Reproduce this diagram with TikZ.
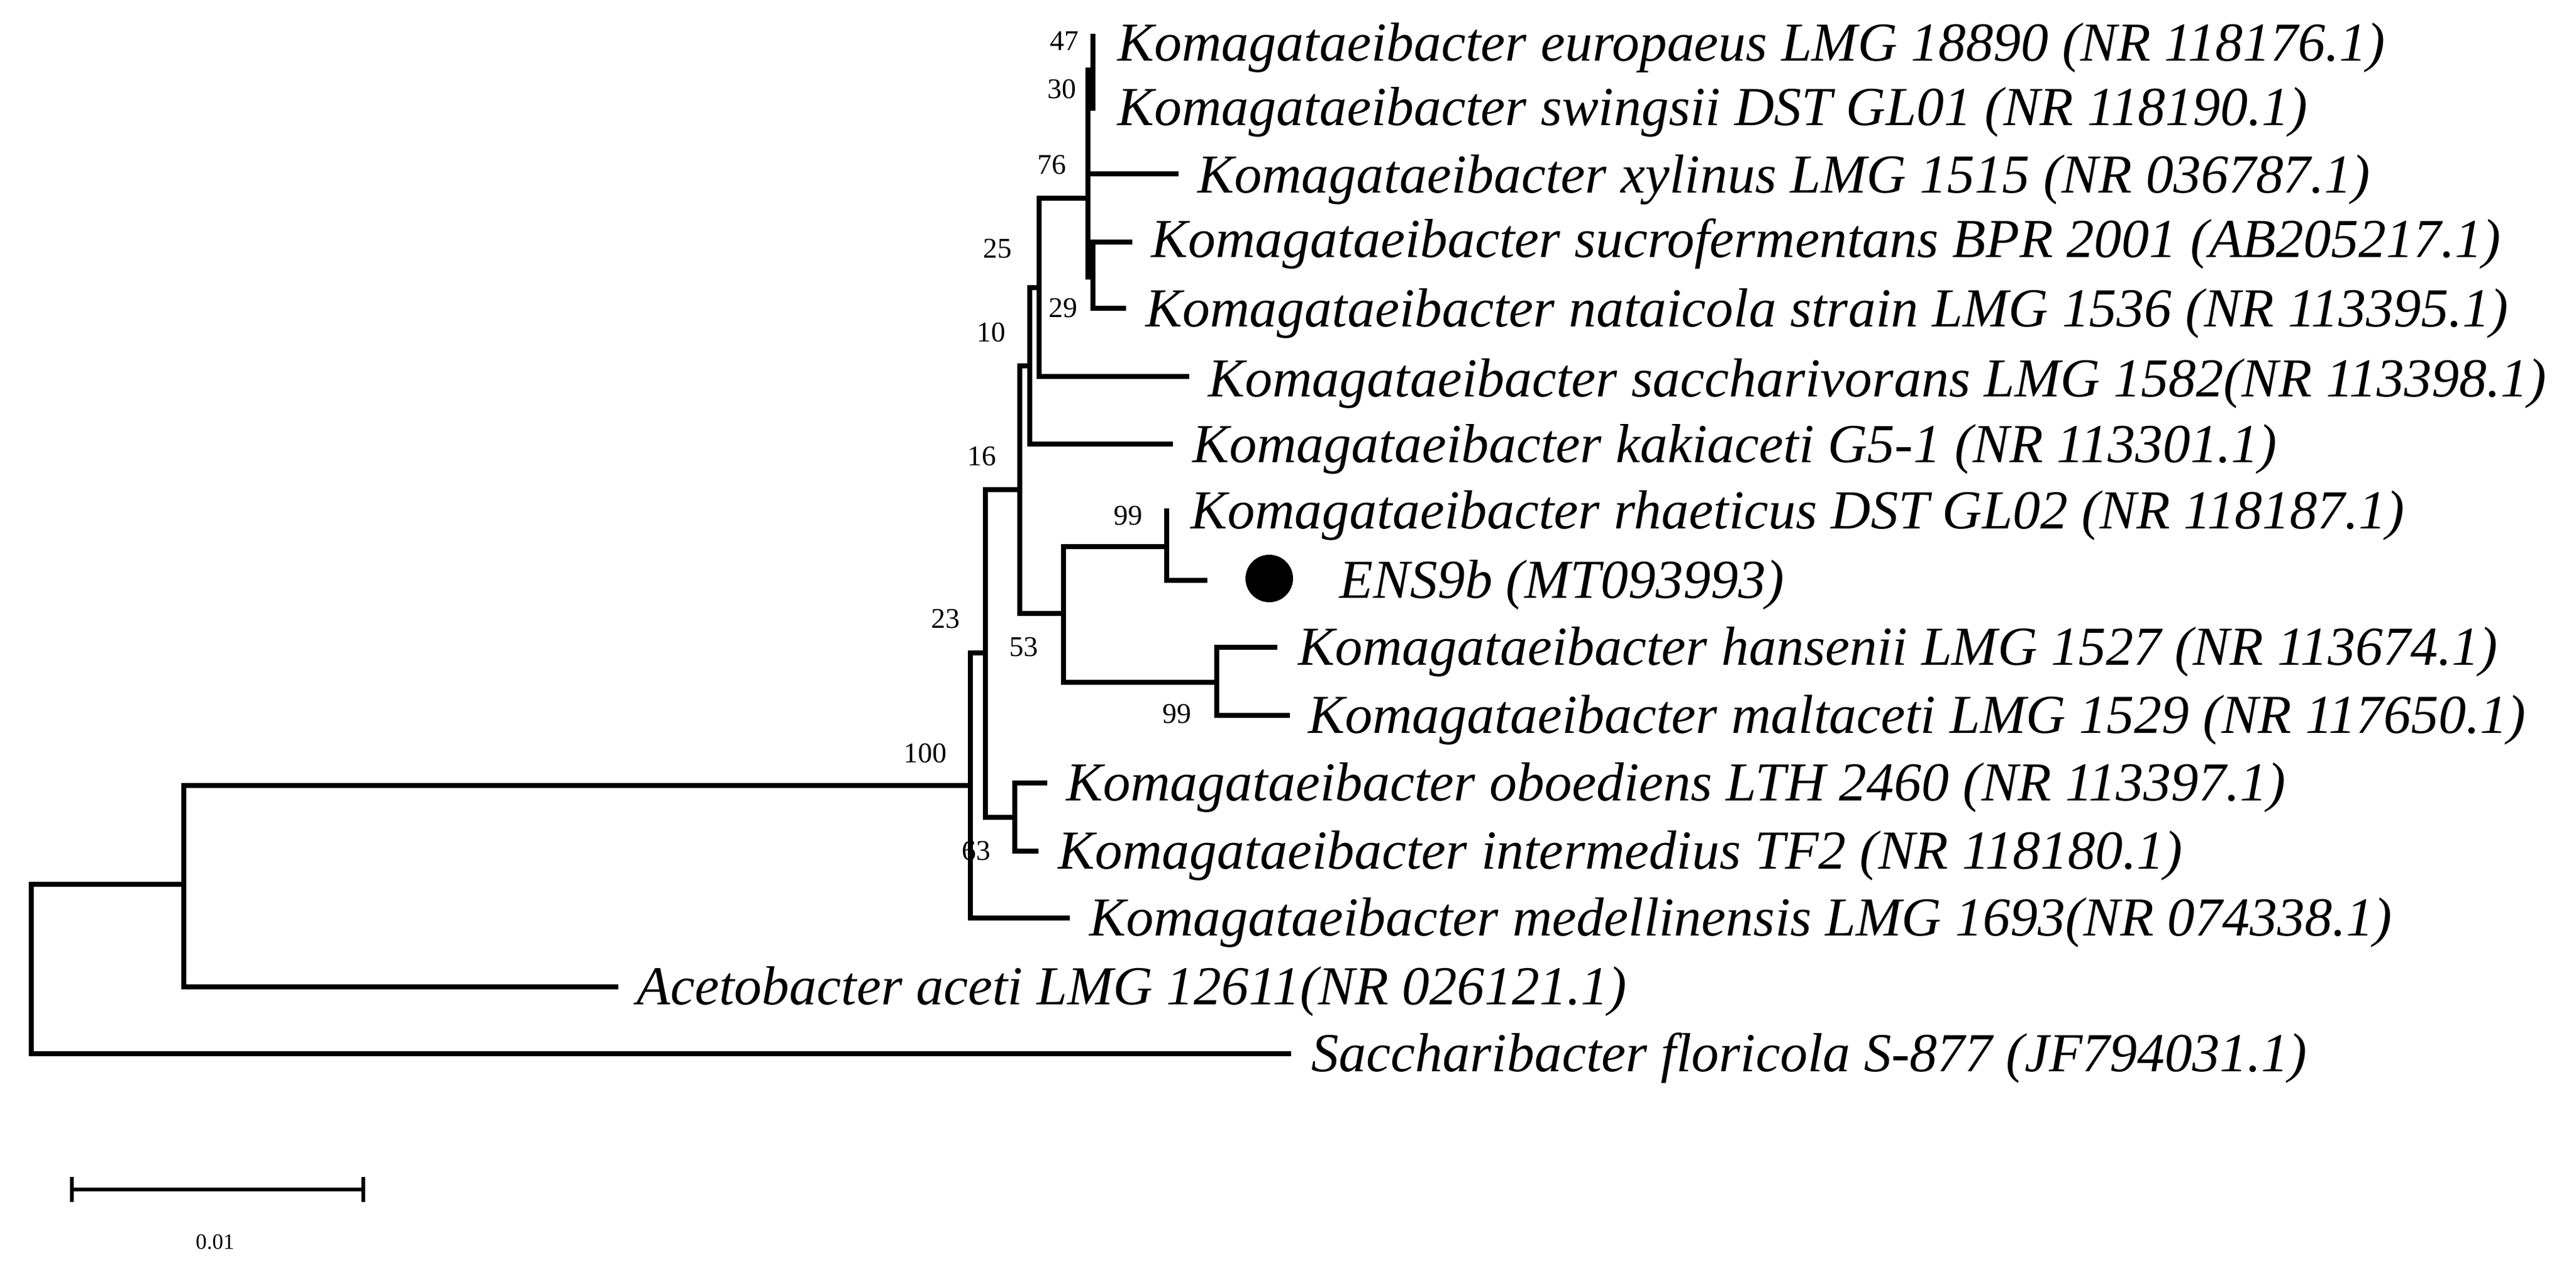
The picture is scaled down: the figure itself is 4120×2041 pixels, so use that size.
\documentclass[tikz,border=0pt]{standalone}
\usepackage{fontspec}
\setmainfont{Liberation Serif}
\begin{document}
\begin{tikzpicture}[x=0.01cm,y=-0.01cm,
  br/.style={line width=2.3pt,line cap=rect},
  leaf/.style={anchor=base west,inner sep=0pt,font=\fontsize{25}{28}\selectfont\itshape},
  bs/.style={inner sep=0pt,font=\fontsize{13}{15}\selectfont}]
\useasboundingbox (0,0) rectangle (4120,2041);
% tree
\draw[br] (50,1414) -- (50,1685) -- (2061,1685);
\draw[br] (50,1414) -- (294,1414);
\draw[br] (294,1256) -- (294,1578) -- (985,1578);
\draw[br] (294,1256) -- (1552,1256);
\draw[br] (1552,1044) -- (1552,1468) -- (1707,1468);
\draw[br] (1552,1044) -- (1576,1044);
\draw[br] (1576,783) -- (1576,1307) -- (1623,1307);
\draw[br] (1623,1252) -- (1623,1361);
\draw[br] (1623,1252) -- (1671,1252);
\draw[br] (1623,1361) -- (1657,1361);
\draw[br] (1576,783) -- (1631,783);
\draw[br] (1631,585) -- (1631,981) -- (1701,981);
\draw[br] (1701,874) -- (1701,1091);
\draw[br] (1701,874) -- (1866,874);
\draw[br] (1866,817) -- (1866,928) -- (1927,928);
\draw[br] (1701,1091) -- (1946,1091);
\draw[br] (1946,1035) -- (1946,1144) -- (2059,1144);
\draw[br] (1946,1035) -- (2039,1035);
\draw[br] (1631,585) -- (1647,585);
\draw[br] (1647,460) -- (1647,710) -- (1872,710);
\draw[br] (1647,460) -- (1662,460);
\draw[br] (1662,317) -- (1662,602) -- (1898,602);
\draw[br] (1662,317) -- (1740,317);
\draw[br] (1740,112) -- (1740,443);
\draw[br] (1748,58) -- (1748,173);
\draw[br] (1740,278) -- (1881,278);
\draw[br] (1740,443) -- (1748,443);
\draw[br] (1748,387) -- (1748,493) -- (1797,493);
\draw[br] (1748,387) -- (1807,387);
\fill (2030,925) circle (38);
% leaves
\node[leaf] (l1) at (1787,97) {Komagataeibacter europaeus LMG 18890 (NR 118176.1)};
\node[leaf] (l2) at (1787,200) {Komagataeibacter swingsii DST GL01 (NR 118190.1)};
\node[leaf] (l3) at (1915,308) {Komagataeibacter xylinus LMG 1515 (NR 036787.1)};
\node[leaf] (l4) at (1841,411) {Komagataeibacter sucrofermentans BPR 2001 (AB205217.1)};
\node[leaf] (l5) at (1832,522) {Komagataeibacter nataicola strain LMG 1536 (NR 113395.1)};
\node[leaf] (l6) at (1932,634) {Komagataeibacter saccharivorans LMG 1582(NR 113398.1)};
\node[leaf] (l7) at (1907,739) {Komagataeibacter kakiaceti G5-1 (NR 113301.1)};
\node[leaf] (l8) at (1904,845) {Komagataeibacter rhaeticus DST GL02 (NR 118187.1)};
\node[leaf] (l9) at (2142,956) {ENS9b (MT093993)};
\node[leaf] (l10) at (2076,1063) {Komagataeibacter hansenii LMG 1527 (NR 113674.1)};
\node[leaf] (l11) at (2092,1172) {Komagataeibacter maltaceti LMG 1529 (NR 117650.1)};
\node[leaf] (l12) at (1705,1280) {Komagataeibacter oboediens LTH 2460 (NR 113397.1)};
\node[leaf] (l13) at (1692,1389) {Komagataeibacter intermedius TF2 (NR 118180.1)};
\node[leaf] (l14) at (1742,1496) {Komagataeibacter medellinensis LMG 1693(NR 074338.1)};
\node[leaf] (l15) at (1018,1606) {Acetobacter aceti LMG 12611(NR 026121.1)};
\node[leaf] (l16) at (2097,1713) {Saccharibacter floricola S-877 (JF794031.1)};
% bootstrap
\node[bs] (b47) at (1702,65) {47};
\node[bs] (b30) at (1698,143) {30};
\node[bs] (b76) at (1682,264) {76};
\node[bs] (b25) at (1595,398) {25};
\node[bs] (b29) at (1700,493) {29};
\node[bs] (b10) at (1585,532) {10};
\node[bs] (b16) at (1570,730) {16};
\node[bs] (b99a) at (1804,825) {99};
\node[bs] (b23) at (1512,990) {23};
\node[bs] (b53) at (1637,1035) {53};
\node[bs] (b99b) at (1882,1142) {99};
\node[bs] (b100) at (1480,1204) {100};
\node[bs] (b63) at (1561,1361) {63};
% scale bar
\draw[line width=1.6pt] (115,1902) -- (581,1902);
\draw[line width=1.6pt] (115,1882) -- (115,1922);
\draw[line width=1.6pt] (581,1882) -- (581,1922);
\node[inner sep=0pt,font=\fontsize{10}{11}\selectfont] (sl) at (344,1986) {0.01};
\end{tikzpicture}
\end{document}
